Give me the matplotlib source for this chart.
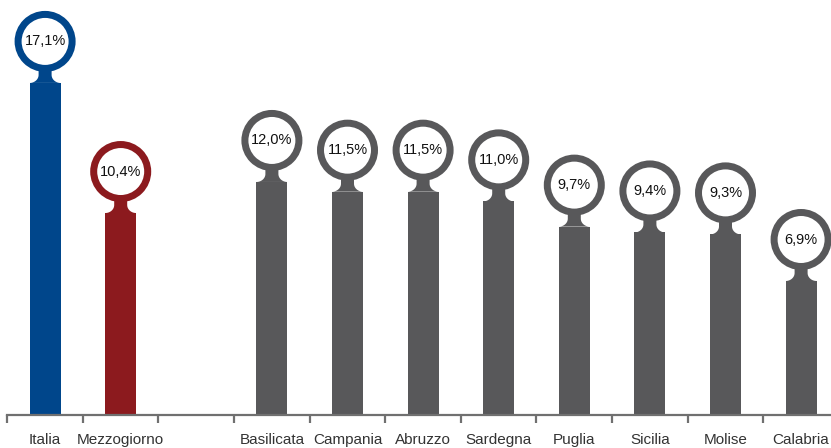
import numpy as np
import matplotlib
matplotlib.use('Agg')
import matplotlib.pyplot as plt
from matplotlib.patches import Ellipse, Polygon

# data
labels = ['Italia', 'Mezzogiorno', '', 'Basilicata', 'Campania', 'Abruzzo',
          'Sardegna', 'Puglia', 'Sicilia', 'Molise', 'Calabria']
values = [17.1, 10.4, None, 12.0, 11.5, 11.5, 11.0, 9.7, 9.4, 9.3, 6.9]
value_text = ['17,1%', '10,4%', '', '12,0%', '11,5%', '11,5%', '11,0%',
              '9,7%', '9,4%', '9,3%', '6,9%']
colors = ['#00468b', '#8c1a1e', None] + ['#58585a'] * 8

plt.rcParams['font.family'] = ['Liberation Sans', 'DejaVu Sans']

W, H = 831, 448
fig = plt.figure(figsize=(W / 100, H / 100), dpi=100)

slot = 75.6          # px per category
ymax = 20
py_unit = 19.42      # px per percent
ax_left, ax_base = 7.3, 415
ax_w = slot * len(labels)
ax_h = ymax * py_unit
ax = fig.add_axes([ax_left / W, (H - ax_base) / H, ax_w / W, ax_h / H])
ax.set_xlim(-0.5, len(labels) - 0.5)
ax.set_ylim(0, ymax)

# data units per pixel
dx = 1 / slot
dy = ymax / ax_h

bar_w = 31
ring_r, ring_lw = 27, 7
head_off = 41.5

for i, (v, c, t) in enumerate(zip(values, colors, value_text)):
    if v is None:
        continue
    ax.bar(i, v, width=bar_w * dx, color=c, zorder=2)
    # neck with concave fillets
    hw, nw = bar_w / 2, 6.5
    fr_x, fr_y = hw - nw, 8
    ang = np.linspace(-np.pi / 2, 0, 20)
    left = [(-hw + fr_x * np.cos(a), fr_y + fr_y * np.sin(a)) for a in ang]
    pts = left + [(-nw, 22), (nw, 22)] + [(-x, y) for x, y in left[::-1]]
    pts = [(i + x * dx, v + y * dy) for x, y in pts]
    ax.add_patch(Polygon(pts, closed=True, facecolor=c, edgecolor='none',
                         zorder=2, clip_on=False))
    cy = v + head_off * dy
    ax.add_patch(Ellipse((i, cy), 2 * ring_r * dx, 2 * ring_r * dy,
                         facecolor='white', edgecolor=c, lw=ring_lw * 0.72,
                         zorder=3, clip_on=False))
    ax.text(i, cy, t, ha='center', va='center', fontsize=10.5,
            color='#111111', zorder=4)

for s in ['top', 'right', 'left']:
    ax.spines[s].set_visible(False)
ax.spines['bottom'].set_color('#707070')
ax.spines['bottom'].set_linewidth(1.6)
ax.set_yticks([])
ax.set_xticks(range(len(labels)))
ax.set_xticklabels(labels, fontsize=11, color='#333333')
ax.tick_params(axis='x', which='major', length=0, pad=13)
ax.set_xticks(np.arange(-0.5, len(labels), 1), minor=True)
ax.tick_params(axis='x', which='minor', length=6, width=1.6, color='#707070')

fig.savefig('out.png', dpi=100)
